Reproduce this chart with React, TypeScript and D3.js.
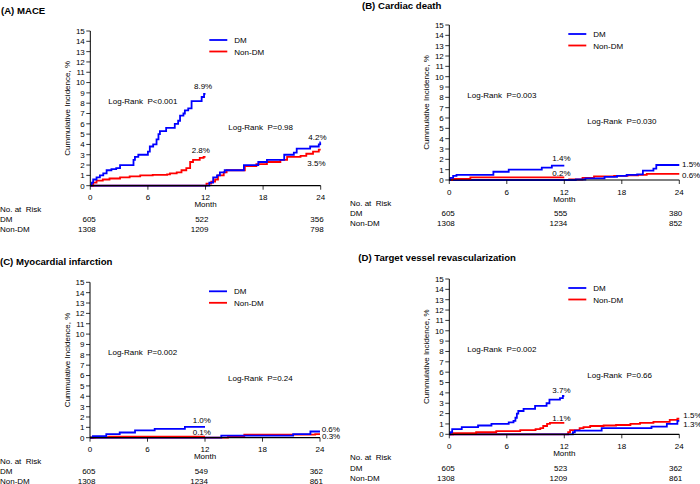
import React from "react";
import * as d3 from "d3";

type Pt = [number, number];

const MONTH_TICKS = [0, 6, 12, 18, 24];
const INCIDENCE_TICKS = [0, 1, 2, 3, 4, 5, 6, 7, 8, 9, 10, 11, 12, 13, 14, 15];
const SERIES_NAMES = ["DM", "Non-DM"];
const RISK_MONTHS = [0, 12, 24];
const PANEL_TITLES = ["(A) MACE", "(B) Cardiac death", "(C) Myocardial infarction", "(D) Target vessel revascularization"];

// (A) MACE
const MACE_DM_1: Pt[] = [[0,0],[0.15,0.3],[0.3,0.6],[0.65,0.8],[1.0,1.0],[1.35,1.2],[1.7,1.5],[2.2,1.6],[2.7,1.7],[3.1,2.0],[4.5,2.5],[4.65,2.8],[5.0,3.0],[6.0,3.3],[6.2,3.8],[6.55,4.0],[6.9,4.5],[7.1,5.0],[7.25,5.3],[7.9,5.6],[8.8,6.0],[9.15,6.3],[9.35,6.8],[9.7,7.0],[9.85,7.3],[10.2,7.5],[10.55,8.2],[11.45,8.2],[11.6,8.6],[11.85,8.9],[12,8.9]];
const MACE_NONDM_1: Pt[] = [[0,0],[0.3,0.3],[0.65,0.5],[1.3,0.6],[2.0,0.7],[3.1,0.8],[4.1,0.9],[5.2,1.0],[6.5,1.05],[8.0,1.1],[8.3,1.2],[9.0,1.3],[9.5,1.5],[10.0,1.7],[10.4,2.3],[10.7,2.5],[11.4,2.7],[11.8,2.8],[12,2.8]];
const MACE_DM_2: Pt[] = [[0,0],[12.4,0.3],[12.8,0.8],[13.2,1.0],[13.5,1.3],[14.0,1.5],[16.0,2.0],[17.5,2.3],[18.4,2.5],[20.2,3.0],[21.2,3.2],[21.5,3.6],[22.9,3.8],[23.8,4.0],[23.95,4.2],[24,4.2]];
const MACE_NONDM_2: Pt[] = [[0,0],[12.1,0.2],[12.6,0.4],[13.0,0.6],[13.3,1.0],[13.9,1.3],[14.2,1.5],[16.1,1.9],[17.3,2.1],[18.4,2.3],[19.8,2.5],[20.5,2.8],[21.9,2.9],[22.5,3.1],[23.2,3.3],[23.8,3.5],[24,3.5]];
const MACE_P = ["Log-Rank  P<0.001", "Log-Rank  P=0.98"];
const MACE_END = ["8.9%", "2.8%", "4.2%", "3.5%"];
const MACE_RISK_DM = [605, 522, 356];
const MACE_RISK_NONDM = [1308, 1209, 798];

// (B) Cardiac death
const CD_DM_1: Pt[] = [[0,0],[0.1,0.2],[0.4,0.4],[0.75,0.5],[4.6,0.8],[6.2,1.0],[9.65,1.2],[10.7,1.4],[12,1.4]];
const CD_NONDM_1: Pt[] = [[0,0],[0.3,0.1],[2.2,0.25],[12,0.25]];
const CD_DM_2: Pt[] = [[0,0],[13.2,0.05],[14.2,0.15],[16.2,0.3],[17.5,0.4],[18.5,0.5],[19.6,0.55],[20.2,0.9],[21.3,1.1],[21.6,1.45],[24,1.45]];
const CD_NONDM_2: Pt[] = [[0,0],[12.5,0.05],[13.9,0.2],[15.1,0.35],[17.2,0.4],[18.6,0.45],[19.7,0.5],[20.6,0.6],[24,0.6]];
const CD_P = ["Log-Rank  P=0.003", "Log-Rank  P=0.030"];
const CD_END = ["1.4%", "0.2%", "1.5%", "0.6%"];
const CD_RISK_DM = [605, 555, 380];
const CD_RISK_NONDM = [1308, 1234, 852];

// (C) Myocardial infarction
const MI_DM_1: Pt[] = [[0,0],[0.3,0.15],[1.7,0.35],[3.1,0.5],[4.7,0.7],[6.75,0.85],[9.9,1.05],[12,1.05]];
const MI_NONDM_1: Pt[] = [[0,0],[0.5,0.05],[2.0,0.1],[12,0.1]];
const MI_DM_2: Pt[] = [[0,0],[13.7,0.2],[21.2,0.35],[23.0,0.6],[24,0.6]];
const MI_NONDM_2: Pt[] = [[0,0],[14.4,0.15],[16.1,0.3],[23.5,0.35],[24,0.35]];
const MI_P = ["Log-Rank  P=0.002", "Log-Rank  P=0.24"];
const MI_END = ["1.0%", "0.1%", "0.6%", "0.3%"];
const MI_RISK_DM = [605, 549, 362];
const MI_RISK_NONDM = [1308, 1234, 861];

// (D) Target vessel revascularization
const TVR_DM_1: Pt[] = [[0,0],[0.1,0.2],[0.3,0.5],[1.3,0.7],[3.0,0.85],[4.4,1.0],[6.2,1.15],[6.7,1.3],[6.9,1.6],[7.05,2.0],[7.2,2.25],[7.75,2.45],[8.95,2.75],[10.15,3.0],[10.45,3.35],[11.55,3.5],[11.85,3.7],[12,3.7]];
const TVR_NONDM_1: Pt[] = [[0,0],[0.4,0.1],[2.8,0.2],[4.9,0.3],[7.4,0.4],[9.0,0.5],[9.5,0.6],[9.8,0.8],[10.2,1.0],[10.5,1.1],[12,1.1]];
const TVR_DM_2: Pt[] = [[0,0],[12.9,0.2],[13.1,0.35],[15.9,0.6],[21.1,0.75],[22.7,1.0],[23.8,1.3],[24,1.3]];
const TVR_NONDM_2: Pt[] = [[0,0],[12.4,0.2],[12.6,0.4],[13.6,0.6],[14.0,0.7],[14.7,0.8],[16.1,0.85],[17.4,0.9],[18.9,1.0],[19.9,1.1],[21.3,1.2],[23.0,1.4],[23.8,1.5],[24,1.5]];
const TVR_P = ["Log-Rank  P=0.002", "Log-Rank  P=0.66"];
const TVR_END = ["3.7%", "1.1%", "1.5%", "1.3%"];
const TVR_RISK_DM = [605, 523, 362];
const TVR_RISK_NONDM = [1308, 1209, 861];

const PANELS = [
  { title: PANEL_TITLES[0], dm1: MACE_DM_1, nd1: MACE_NONDM_1, dm2: MACE_DM_2, nd2: MACE_NONDM_2, p: MACE_P, end: MACE_END, rdm: MACE_RISK_DM, rnd: MACE_RISK_NONDM },
  { title: PANEL_TITLES[1], dm1: CD_DM_1, nd1: CD_NONDM_1, dm2: CD_DM_2, nd2: CD_NONDM_2, p: CD_P, end: CD_END, rdm: CD_RISK_DM, rnd: CD_RISK_NONDM },
  { title: PANEL_TITLES[2], dm1: MI_DM_1, nd1: MI_NONDM_1, dm2: MI_DM_2, nd2: MI_NONDM_2, p: MI_P, end: MI_END, rdm: MI_RISK_DM, rnd: MI_RISK_NONDM },
  { title: PANEL_TITLES[3], dm1: TVR_DM_1, nd1: TVR_NONDM_1, dm2: TVR_DM_2, nd2: TVR_NONDM_2, p: TVR_P, end: TVR_END, rdm: TVR_RISK_DM, rnd: TVR_RISK_NONDM },
];

// layout (pixels)
const LAYOUT = [
  { left: 0, x0: 90.3, x24: 320.7, y0: 185.7, y15: 31, titleX: 1, titleY: 13.5,
    endPos: [[194, 89], [191.7, 153], [308.3, 140], [307.3, 166]] },
  { left: 350, x0: 449.3, x24: 679.3, y0: 180, y15: 25, titleX: 362, titleY: 8.5,
    endPos: [[552.3, 161], [552.3, 176.3], [682, 167], [682, 177.7]] },
  { left: 0, x0: 90, x24: 320, y0: 437.7, y15: 282.3, titleX: 0, titleY: 264.5,
    endPos: [[192.7, 423.3], [192.7, 435], [321.7, 431.7], [322, 438.5]] },
  { left: 350, x0: 449.3, x24: 679.3, y0: 434.3, y15: 279, titleX: 358.3, titleY: 261,
    endPos: [[552.3, 393.3], [552.3, 420.7], [683.3, 418], [683.3, 427]] },
];

const FONT = "'Liberation Sans', Arial, Helvetica, sans-serif";
const BLUE = "#0000ff";
const RED = "#ff0000";
const FS = 8;

function Panel({ d, L }: { d: any; L: any }) {
  const x = d3.scaleLinear().domain([0, 24]).range([L.x0, L.x24]);
  const y = d3.scaleLinear().domain([0, 15]).range([L.y0, L.y15]);
  const line = d3.line<Pt>().x((p) => x(p[0])).y((p) => y(p[1])).curve(d3.curveStepAfter);
  const yTop = y(15);
  const yMid = (y(0) + y(15)) / 2;
  const riskOffsets = [5.5, 3, 3];
  return (
    <g fontFamily={FONT} fontSize={FS} fill="#000">
      <text x={L.titleX} y={L.titleY} fontWeight="bold" fontSize={9.6}>{d.title}</text>
      {/* curves */}
      <path d={line(d.nd2) || ""} fill="none" stroke={RED} strokeWidth={1.8} />
      <path d={line(d.dm2) || ""} fill="none" stroke={BLUE} strokeWidth={1.8} />
      <path d={line(d.nd1) || ""} fill="none" stroke={RED} strokeWidth={1.8} />
      <path d={line(d.dm1) || ""} fill="none" stroke={BLUE} strokeWidth={1.8} />
      {/* axes */}
      <line x1={x(0)} x2={x(0)} y1={y(0)} y2={y(15)} stroke="#000" strokeWidth={1} />
      <line x1={x(0)} x2={x(24)} y1={y(0)} y2={y(0)} stroke="#000" strokeWidth={1.2} />
      {INCIDENCE_TICKS.map((t) => (
        <g key={"y" + t}>
          <line x1={x(0) - 4} x2={x(0)} y1={y(t)} y2={y(t)} stroke="#000" strokeWidth={0.8} />
          <text x={x(0) - 5.5} y={y(t) + 2.9} textAnchor="end">{t}</text>
        </g>
      ))}
      {MONTH_TICKS.map((t) => (
        <g key={"x" + t}>
          <line x1={x(t)} x2={x(t)} y1={y(0)} y2={y(0) + 4} stroke="#000" strokeWidth={0.8} />
          <text x={x(t)} y={y(0) + 14.5} textAnchor="middle">{t}</text>
        </g>
      ))}
      <text x={x(12)} y={y(0) + 21.5} textAnchor="middle">Month</text>
      <text transform={`translate(${x(0) - 20},${yMid}) rotate(-90)`} textAnchor="middle">Cummulative Incidence, %</text>
      {/* legend */}
      {SERIES_NAMES.map((n, i) => (
        <g key={n}>
          <line x1={x(0) + 119} x2={x(0) + 137} y1={yTop + 9 + i * 11.5} y2={yTop + 9 + i * 11.5} stroke={i === 0 ? BLUE : RED} strokeWidth={1.8} />
          <text x={x(0) + 144} y={yTop + 12 + i * 11.5}>{n}</text>
        </g>
      ))}
      {/* log-rank */}
      <text x={x(0) + 18} y={yTop + 72.5} xmlSpace="preserve" style={{ whiteSpace: "pre" }}>{d.p[0]}</text>
      <text x={x(0) + 138} y={yTop + 99} xmlSpace="preserve" style={{ whiteSpace: "pre" }}>{d.p[1]}</text>
      {/* end labels */}
      {d.end.map((s: string, i: number) => (
        <text key={"e" + i} x={L.endPos[i][0]} y={L.endPos[i][1]}>{s}</text>
      ))}
      {/* number at risk */}
      <text x={L.left} y={y(0) + 26} xmlSpace="preserve" style={{ whiteSpace: "pre" }}>No. at  Risk</text>
      <text x={L.left} y={y(0) + 36.4}>{SERIES_NAMES[0]}</text>
      <text x={L.left} y={y(0) + 46.2}>{SERIES_NAMES[1]}</text>
      {RISK_MONTHS.map((m, i) => (
        <g key={"r" + m}>
          <text x={x(m) + riskOffsets[i]} y={y(0) + 36.4} textAnchor="end">{d.rdm[i]}</text>
          <text x={x(m) + riskOffsets[i]} y={y(0) + 46.2} textAnchor="end">{d.rnd[i]}</text>
        </g>
      ))}
    </g>
  );
}

export default function App() {
  return (
    <svg width={700} height={484} style={{ position: "absolute", left: 0, top: 0, background: "#fff" }}>
      <rect width={700} height={484} fill="#fff" />
      {PANELS.map((p, i) => (
        <Panel key={i} d={p} L={LAYOUT[i]} />
      ))}
    </svg>
  );
}
